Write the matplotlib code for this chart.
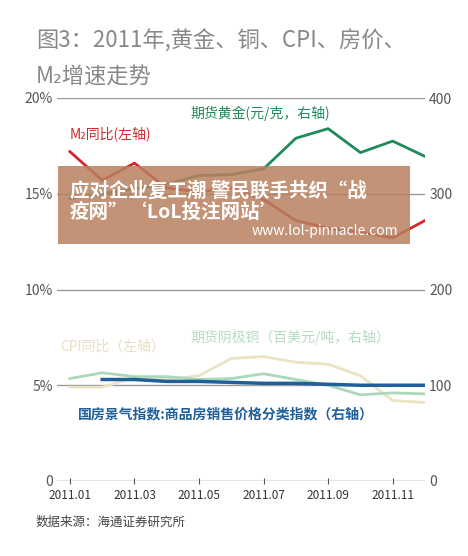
import matplotlib
matplotlib.use("Agg")
import matplotlib.pyplot as plt
import matplotlib.patches as mpatches

plt.rcParams['font.family'] = ['Noto Sans CJK SC', 'DejaVu Sans']

months = list(range(1, 13))
m2 = [17.2, 15.7, 16.6, 15.3, 15.1, 15.3, 14.7, 13.6, 13.2, 13.0, 12.7, 13.6]
cpi = [4.9, 4.9, 5.4, 5.3, 5.5, 6.4, 6.5, 6.2, 6.1, 5.5, 4.2, 4.1]
gold = [295, 300, 305, 310, 319, 320, 326, 358, 368, 343, 355, 339]
copper = [107, 113, 109, 109, 106, 107, 112, 106, 100, 90, 92, 91]
house_m = list(range(2, 13))
house = [106, 106, 104, 104, 103, 102, 102, 101, 100, 100, 100]
xticks = [1, 3, 5, 7, 9, 11]
xlabels = ['2011.01', '2011.03', '2011.05', '2011.07', '2011.09', '2011.11']

fig = plt.figure(figsize=(4.68, 5.56), dpi=100)
ax = fig.add_axes([57/468, 75/556, 368/468, 383/556])
ax2 = ax.twinx()
ax.set_xlim(0.6, 12.0)
ax.set_ylim(0, 20)
ax2.set_ylim(0, 400)
for a in (ax, ax2):
    for s in a.spines.values():
        s.set_visible(False)
ax.set_yticks([0, 5, 10, 15, 20])
ax.set_yticklabels(['0', '5%', '10%', '15%', '20%'])
ax2.set_yticks([0, 100, 200, 300, 400])
for y in [5, 10, 15, 20]:
    ax.axhline(y, color='#9a9a9a', lw=1.0, zorder=0)
ax.axhline(0, color='#777777', lw=1.0)
ax.set_xticks(xticks)
ax.set_xticklabels(xlabels)
ax.tick_params(axis='x', length=5, direction='inout', colors='#555555', labelsize=8.5)
ax.tick_params(axis='y', length=0, colors='#555555', labelsize=10, pad=3)
ax2.tick_params(axis='y', length=0, colors='#555555', labelsize=10, pad=3)
for lab in ax.get_xticklabels():
    lab.set_color('#333333')

ax.plot(months, cpi, color='#ece3c4', lw=2, zorder=2)
ax2.plot(months, copper, color='#a9d9b8', lw=2, zorder=2)
ax2.plot(house_m, house, color='#1f5f9a', lw=2.5, zorder=3)
ax.plot(months, m2, color='#cf2a2e', lw=2, zorder=3)
ax2.plot(months, gold, color='#1f8a5a', lw=2, zorder=3)

fig.text(70/468, 1-138/556, 'M₂同比(左轴)', color='#cf2a2e', fontsize=10)
fig.text(190/468, 1-118/556, '期货黄金(元/克，右轴)', color='#1f8a5a', fontsize=10)
fig.text(60/468, 1-351/556, 'CPI同比（左轴）', color='#e8dfc0', fontsize=10)
fig.text(190/468, 1-342/556, '期货阴极铜（百美元/吨，右轴）', color='#b5dcc2', fontsize=10)
fig.text(78/468, 1-418/556, '国房景气指数:商品房销售价格分类指数（右轴）', color='#1f5f9a', fontsize=10, fontweight='bold')
fig.text(36/468, 1-48/556, '图3：2011年,黄金、铜、CPI、房价、', color='#888888', fontsize=16)
fig.text(36/468, 1-84/556, 'M₂增速走势', color='#888888', fontsize=16)
fig.text(36/468, 1-526/556, '数据来源：海通证券研究所', color='#444444', fontsize=9)

fig.patches.append(mpatches.Rectangle((58/468, 1-244/556), 352/468, 78/556,
                                      transform=fig.transFigure, facecolor='#b9805f',
                                      alpha=0.85, zorder=10))
fig.text(70/468, 1-197/556, '应对企业复工潮 警民联手共织“战', color='white', fontsize=14,
         fontweight='bold', zorder=11)
fig.text(70/468, 1-218/556, '疫网”‘LoL投注网站’', color='white', fontsize=14,
         fontweight='bold', zorder=11)
fig.text(398/468, 1-235/556, 'www.lol-pinnacle.com', color='white', fontsize=10,
         ha='right', zorder=11)

fig.savefig('out.png', dpi=100, facecolor='white')
